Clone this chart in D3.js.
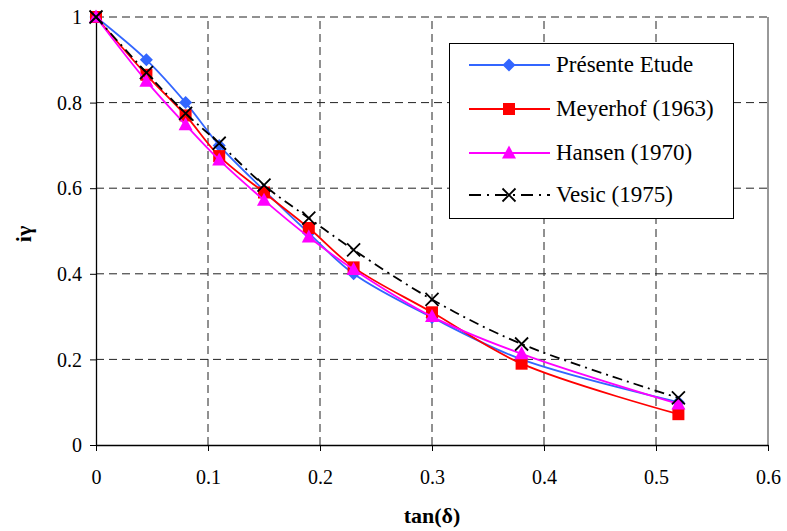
<!DOCTYPE html>
<html><head><meta charset="utf-8">
<script src="https://cdn.jsdelivr.net/npm/d3@7"></script>
<style>body{margin:0;background:#fff}svg{display:block}</style>
</head><body>
<script>
const xValues = [0, 0.045, 0.08, 0.11, 0.15, 0.19, 0.23, 0.3, 0.38, 0.52];
const presente = [1, 0.90, 0.80, 0.70, 0.595, 0.495, 0.40, 0.298, 0.20, 0.10];
const meyerhof = [1, 0.865, 0.77, 0.675, 0.59, 0.507, 0.415, 0.31, 0.19, 0.072];
const hansen   = [1, 0.85, 0.748, 0.666, 0.572, 0.486, 0.41, 0.30, 0.213, 0.096];
const vesic    = [1, 0.87, 0.775, 0.705, 0.607, 0.53, 0.456, 0.34, 0.236, 0.11];
const seriesNames = ["Présente Etude", "Meyerhof (1963)", "Hansen (1970)", "Vesic (1975)"];
const xTicks = [0, 0.1, 0.2, 0.3, 0.4, 0.5, 0.6];
const yTicks = [0, 0.2, 0.4, 0.6, 0.8, 1];

const FONT = '"Liberation Serif", "Times New Roman", serif';
const W = 787, H = 531;
const svg = d3.select("body").append("svg").attr("width", W).attr("height", H);
const x = d3.scaleLinear().domain([0, 0.6]).range([96, 768]);
const y = d3.scaleLinear().domain([0, 1]).range([445, 17]);

// gridlines
const g = svg.append("g");
g.selectAll(".vg").data(xTicks.filter(d => d > 0 && d < 0.6)).join("line")
  .attr("x1", d => x(d)).attr("x2", d => x(d)).attr("y1", y(0)).attr("y2", y(1))
  .attr("stroke", "#222").attr("stroke-dasharray", "8,5").attr("stroke-width", 1);
g.selectAll(".hg").data(yTicks.filter(d => d > 0)).join("line")
  .attr("x1", x(0)).attr("x2", x(0.6)).attr("y1", d => y(d)).attr("y2", d => y(d))
  .attr("stroke", "#222").attr("stroke-dasharray", "8,5").attr("stroke-width", 1);
svg.append("line").attr("x1", x(0.6)).attr("x2", x(0.6)).attr("y1", y(0)).attr("y2", y(1))
  .attr("stroke", "#333").attr("stroke-width", 1);

// axes
const fmt = d => String(+d.toFixed(1));
const xAxis = svg.append("g").attr("transform", `translate(0,${y(0)})`)
  .call(d3.axisBottom(x).tickValues(xTicks).tickFormat(fmt).tickSize(6).tickSizeOuter(0));
const yAxis = svg.append("g").attr("transform", `translate(${x(0)},0)`)
  .call(d3.axisLeft(y).tickValues(yTicks).tickFormat(fmt).tickSize(6).tickSizeOuter(0));
[xAxis, yAxis].forEach(a => {
  a.selectAll("path").attr("stroke", "#000").attr("stroke-width", 1.3);
  a.selectAll("line").attr("stroke", "#000");
  a.selectAll("text").style("font-family", FONT).style("font-size", "20px").attr("fill", "#000");
});
xAxis.selectAll("text").attr("y", 0).attr("dy", 39);
yAxis.selectAll("text").attr("dx", -5).attr("dy", "0.33em");

svg.append("text").attr("x", x(0.3)).attr("y", 523).attr("text-anchor", "middle")
  .style("font-family", FONT).style("font-size", "22px").style("font-weight", "bold").text("tan(δ)");
svg.append("text").attr("transform", `translate(31,234) rotate(-90)`)
  .attr("text-anchor", "middle").style("font-family", FONT).style("font-size", "22px").style("font-weight", "bold").text("iγ");

// series
const series = [
  {name: seriesNames[0], vals: presente, color: "#3366ff", marker: "diamond", dash: null, w: 1.8},
  {name: seriesNames[1], vals: meyerhof, color: "#ff0000", marker: "square", dash: null, w: 1.8},
  {name: seriesNames[2], vals: hansen, color: "#ff00ff", marker: "triangle", dash: null, w: 1.8},
  {name: seriesNames[3], vals: vesic, color: "#000000", marker: "x", dash: "10,5,2,5", w: 1.8},
];
const line = d3.line().x(d => x(d[0])).y(d => y(d[1])).curve(d3.curveCatmullRom.alpha(0.5));

function drawMarker(sel, type, color) {
  if (type === "diamond") sel.append("path").attr("d", "M0,-6.5L6.5,0L0,6.5L-6.5,0Z").attr("fill", color);
  else if (type === "square") sel.append("rect").attr("x", -6).attr("y", -6).attr("width", 12).attr("height", 12).attr("fill", color);
  else if (type === "triangle") sel.append("path").attr("d", "M0,-7.5L7,5.5L-7,5.5Z").attr("fill", color);
  else sel.append("path").attr("d", "M-6.5,-6.5L6.5,6.5M-6.5,6.5L6.5,-6.5").attr("stroke", color).attr("stroke-width", 1.8).attr("fill", "none");
}

series.forEach(s => {
  const pts = xValues.map((xv, i) => [xv, s.vals[i]]);
  svg.append("path").datum(pts).attr("d", line).attr("fill", "none")
    .attr("stroke", s.color).attr("stroke-width", s.w)
    .attr("stroke-dasharray", s.dash);
  pts.forEach(p => {
    const m = svg.append("g").attr("transform", `translate(${x(p[0])},${y(p[1])})`);
    drawMarker(m, s.marker, s.color);
  });
});

// legend
const lg = svg.append("g");
lg.append("rect").attr("x", 449.5).attr("y", 43.5).attr("width", 284).attr("height", 175)
  .attr("fill", "#fff").attr("stroke", "#000").attr("stroke-width", 1);
const ly = [65, 109, 153, 195];
series.forEach((s, i) => {
  lg.append("line").attr("x1", 469).attr("x2", 550).attr("y1", ly[i]).attr("y2", ly[i])
    .attr("stroke", s.color).attr("stroke-width", 2).attr("stroke-dasharray", s.dash ? "12,6,2,6" : null);
  const m = lg.append("g").attr("transform", `translate(509,${ly[i]})`);
  drawMarker(m, s.marker, s.color);
  lg.append("text").attr("x", 556).attr("y", ly[i] + 7).style("font-family", FONT).style("font-size", "23px").attr("fill", "#000").text(s.name);
});
</script>
</body></html>
